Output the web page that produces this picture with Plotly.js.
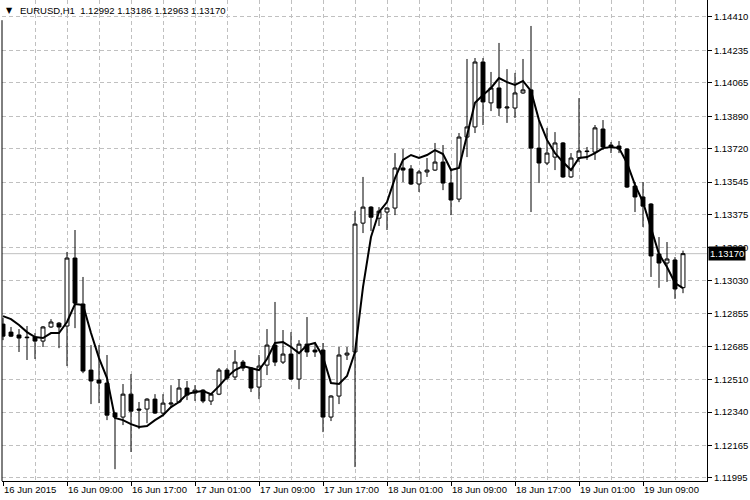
<!DOCTYPE html>
<html>
<head>
<meta charset="utf-8">
<script src="https://cdn.plot.ly/plotly-3.0.1.min.js"></script>
<style>html,body{margin:0;padding:0;background:#fff;}#chart{width:750px;height:500px;}</style>
</head>
<body>
<div id="chart"></div>
<script>
// EURUSD H1, bars from 16 Jun 2015 01:00 (index 0) to 19 Jun 2015 14:00 (index 85)
var barIndex = [];
for (var b = 0; b < 86; b++) barIndex.push(b);

var openPrices = [
1.12801,1.12759,1.12744,1.12733,1.12733,1.12712,1.12786,1.12806,1.12791,1.13147,
1.12906,1.12560,1.12508,1.12492,1.12335,1.12314,1.12434,1.12356,1.12356,1.12408,
1.12335,1.12382,1.12393,1.12466,1.12440,1.12455,1.12398,1.12434,1.12560,1.12524,
1.12602,1.12571,1.12471,1.12586,1.12691,1.12602,1.12644,1.12513,1.12696,1.12665,
1.12665,1.12314,1.12424,1.12639,1.12655,1.13330,1.13414,1.13356,1.13388,1.13409,
1.13619,1.13614,1.13535,1.13598,1.13608,1.13650,1.13540,1.13456,1.13781,1.13834,
1.14174,1.13960,1.14038,1.13933,1.13933,1.14012,1.14028,1.13723,1.13645,1.13676,
1.13750,1.13572,1.13671,1.13708,1.13702,1.13823,1.13739,1.13734,1.13718,1.13524,
1.13467,1.13430,1.13168,1.13121,1.13137,1.12992];
var highPrices = [
1.12833,1.12786,1.12775,1.12791,1.12754,1.12791,1.12827,1.12812,1.13179,1.13294,
1.13048,1.12691,1.12691,1.12639,1.12340,1.12487,1.12539,1.12393,1.12413,1.12434,
1.12434,1.12481,1.12513,1.12503,1.12481,1.12460,1.12440,1.12571,1.12571,1.12665,
1.12613,1.12576,1.12639,1.12775,1.12917,1.12770,1.12759,1.12717,1.12838,1.12702,
1.12702,1.12429,1.12681,1.12681,1.13393,1.13572,1.13419,1.13414,1.13414,1.13697,
1.13718,1.13634,1.13608,1.13671,1.13750,1.13739,1.13608,1.13802,1.14190,1.14195,
1.14195,1.14122,1.14274,1.14137,1.14117,1.14190,1.14363,1.13865,1.13829,1.13807,
1.13755,1.13697,1.13985,1.13729,1.13844,1.13870,1.13755,1.13760,1.13723,1.13545,
1.13545,1.13435,1.13257,1.13231,1.13152,1.13186];
var lowPrices = [
1.12717,1.12733,1.12655,1.12613,1.12618,1.12681,1.12781,1.12675,1.12581,1.12780,
1.12544,1.12382,1.12387,1.12298,1.12041,1.12272,1.12131,1.12251,1.12282,1.12330,
1.12330,1.12361,1.12387,1.12403,1.12398,1.12387,1.12377,1.12429,1.12508,1.12508,
1.12555,1.12445,1.12408,1.12534,1.12581,1.12592,1.12508,1.12460,1.12629,1.12629,
1.12235,1.12293,1.12382,1.12613,1.12052,1.13278,1.13289,1.13315,1.13294,1.13372,
1.13545,1.13530,1.13493,1.13572,1.13603,1.13503,1.13372,1.13440,1.13676,1.13802,
1.13844,1.13917,1.13891,1.13855,1.13881,1.14007,1.13388,1.13540,1.13634,1.13608,
1.13567,1.13567,1.13650,1.13661,1.13661,1.13713,1.13697,1.13697,1.13514,1.13388,
1.13310,1.13048,1.12991,1.13022,1.12933,1.12963];
var closePrices = [
1.12738,1.12738,1.12728,1.12730,1.12712,1.12786,1.12812,1.12786,1.13147,1.12911,
1.12555,1.12503,1.12492,1.12324,1.12314,1.12434,1.12345,1.12351,1.12408,1.12335,
1.12387,1.12387,1.12466,1.12429,1.12455,1.12398,1.12434,1.12560,1.12518,1.12602,
1.12571,1.12466,1.12581,1.12691,1.12602,1.12644,1.12513,1.12696,1.12655,1.12655,
1.12314,1.12424,1.12639,1.12649,1.13325,1.13414,1.13361,1.13393,1.13409,1.13619,
1.13608,1.13535,1.13598,1.13608,1.13650,1.13540,1.13451,1.13781,1.13834,1.14174,
1.13965,1.14038,1.13933,1.13938,1.14012,1.14028,1.13723,1.13645,1.13697,1.13750,
1.13572,1.13671,1.13708,1.13705,1.13829,1.13729,1.13729,1.13718,1.13519,1.13467,
1.13419,1.13158,1.13121,1.13142,1.12985,1.13170];
var movingAverage = [
1.12843,1.12827,1.12796,1.12759,1.12733,1.12728,1.12754,1.12754,1.12812,1.12906,
1.12901,1.12754,1.12623,1.12518,1.12309,1.12298,1.12277,1.12262,1.12267,1.12298,
1.12324,1.12366,1.12393,1.12434,1.12445,1.12450,1.12434,1.12476,1.12524,1.12560,
1.12581,1.12571,1.12560,1.12618,1.12702,1.12707,1.12681,1.12649,1.12691,1.12702,
1.12629,1.12492,1.12487,1.12529,1.12655,1.12995,1.13257,1.13388,1.13440,1.13566,
1.13661,1.13687,1.13671,1.13687,1.13713,1.13692,1.13608,1.13619,1.13792,1.13960,
1.14001,1.14038,1.14090,1.14069,1.14054,1.14075,1.14022,1.13870,1.13766,1.13697,
1.13650,1.13608,1.13671,1.13676,1.13697,1.13723,1.13729,1.13723,1.13645,1.13530,
1.13440,1.13310,1.13168,1.13100,1.13016,1.12990];

var timeTickBars = [0,8,16,24,32,40,48,56,64,72,80];
var timeTickLabels = ["16 Jun 2015","16 Jun 09:00","16 Jun 17:00","17 Jun 01:00","17 Jun 09:00",
  "17 Jun 17:00","18 Jun 01:00","18 Jun 09:00","18 Jun 17:00","19 Jun 01:00","19 Jun 09:00"];
var priceTicks = [1.11995,1.12165,1.12340,1.12510,1.12685,1.12855,1.13030,1.13200,
  1.13375,1.13545,1.13720,1.13890,1.14065,1.14235,1.14410];
var priceTickLabels = ["1.11995","1.12165","1.12340","1.12510","1.12685","1.12855","1.13030","1.13200",
  "1.13375","1.13545","1.13720","1.13890","1.14065","1.14235","1.14410"];
var symbolTitle = "EURUSD,H1  1.12992 1.13186 1.12963 1.13170";
var lastPrice = 1.13170;
var lastPriceLabel = "1.13170";

var minorGrid = [];
for (var g = 4; g <= 84; g += 8) minorGrid.push(g);

var FONT = "Liberation Sans, Arial, sans-serif";
var FS = 9.5;

var traces = [
  {
    type: 'candlestick',
    x: barIndex, open: openPrices, high: highPrices, low: lowPrices, close: closePrices,
    increasing: {line: {color: '#000000', width: 1}, fillcolor: '#ffffff'},
    decreasing: {line: {color: '#000000', width: 1}, fillcolor: '#000000'},
    whiskerwidth: 0,
    hoverinfo: 'none',
    showlegend: false
  },
  {
    type: 'scatter', mode: 'lines',
    x: barIndex, y: movingAverage,
    line: {color: '#000000', width: 2},
    hoverinfo: 'none', showlegend: false
  }
];

var layout = {
  width: 750, height: 500,
  margin: {l: 2, r: 43, t: 0, b: 19, pad: 0},
  paper_bgcolor: '#ffffff', plot_bgcolor: '#ffffff',
  showlegend: false,
  font: {family: FONT, size: FS, color: '#000000'},
  xaxis: {
    range: [-0.125, 88],
    rangeslider: {visible: false},
    tickmode: 'array', tickvals: timeTickBars, ticktext: timeTickLabels,
    ticklabelposition: 'outside right',
    tickangle: 0,
    ticks: 'outside', ticklen: 4, tickcolor: '#000000', tickwidth: 1,
    showline: true, linecolor: '#000000', linewidth: 1,
    showgrid: true, gridcolor: '#c0c0c0', griddash: '4px,3px', gridwidth: 1,
    minor: {tickmode: 'array', tickvals: minorGrid, showgrid: true, gridcolor: '#c0c0c0', griddash: '4px,3px', gridwidth: 1, ticks: ''},
    zeroline: false, fixedrange: true,
    tickfont: {family: FONT, size: FS, color: '#000000'}
  },
  yaxis: {
    range: [1.11979, 1.14499],
    side: 'right',
    tickmode: 'array', tickvals: priceTicks, ticktext: priceTickLabels,
    ticks: 'outside', ticklen: 4, tickcolor: '#000000', tickwidth: 1,
    showline: true, linecolor: '#000000', linewidth: 1,
    showgrid: true, gridcolor: '#c0c0c0', griddash: '4px,3px', gridwidth: 1,
    zeroline: false, fixedrange: true,
    tickfont: {family: FONT, size: FS, color: '#000000'}
  },
  shapes: [
    {type: 'line', xref: 'paper', yref: 'y', x0: 0, x1: 1, y0: lastPrice, y1: lastPrice,
     line: {color: '#c0c0c0', width: 1}, layer: 'below'},
    {type: 'line', xref: 'paper', yref: 'paper', x0: 0, x1: 0, y0: 0, y1: 0.958,
     line: {color: '#000000', width: 1}, layer: 'above'}
  ],
  annotations: [
    {xref: 'paper', yref: 'y', x: 1, y: lastPrice, xanchor: 'left', yanchor: 'middle', xshift: 1,
     text: lastPriceLabel, showarrow: false, bgcolor: '#000000', borderpad: 1,
     font: {family: FONT, size: FS, color: '#ffffff'}},
    {xref: 'paper', yref: 'paper', x: 0, y: 1, xanchor: 'left', yanchor: 'top', xshift: 2, yshift: -4,
     text: '▼', showarrow: false, font: {family: 'DejaVu Sans', size: 8, color: '#000000'}},
    {xref: 'paper', yref: 'paper', x: 0, y: 1, xanchor: 'left', yanchor: 'top', xshift: 16, yshift: -3,
     text: symbolTitle.replace(/  /g, ' &nbsp;'), showarrow: false, font: {family: FONT, size: FS, color: '#000000'}}
  ]
};

Plotly.newPlot('chart', traces, layout, {staticPlot: true, displayModeBar: false});
</script>
</body>
</html>
